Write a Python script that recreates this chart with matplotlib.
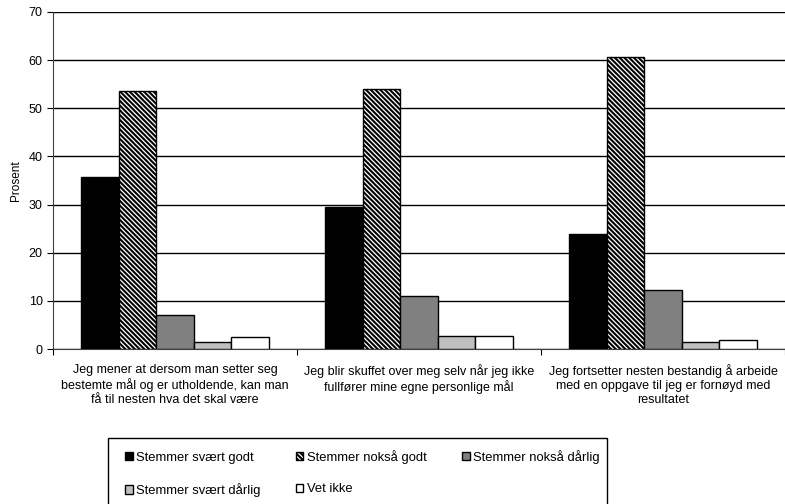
import numpy as np
import matplotlib.pyplot as plt
from matplotlib.patches import Rectangle

plt.rcParams['font.family'] = ['Liberation Sans', 'DejaVu Sans']
plt.rcParams['hatch.linewidth'] = 1.5

categories = [
    'Jeg mener at dersom man setter seg\nbestemte mål og er utholdende, kan man\nfå til nesten hva det skal være',
    'Jeg blir skuffet over meg selv når jeg ikke\nfullfører mine egne personlige mål',
    'Jeg fortsetter nesten bestandig å arbeide\nmed en oppgave til jeg er fornøyd med\nresultatet',
]
series = ['Stemmer svært godt', 'Stemmer nokså godt', 'Stemmer nokså dårlig',
          'Stemmer svært dårlig', 'Vet ikke']
svaert_godt = [35.7, 29.5, 23.8]
noksa_godt = [53.5, 54.1, 60.6]
noksa_darlig = [7.0, 11.0, 12.2]
svaert_darlig = [1.4, 2.7, 1.5]
vet_ikke = [2.4, 2.7, 1.9]
values = [svaert_godt, noksa_godt, noksa_darlig, svaert_darlig, vet_ikke]

fills = ['black', 'white', '#808080', '#c0c0c0', 'white']
hatches = [None, '\\' * 7, None, None, None]

W, H = 785, 504
fig = plt.figure(figsize=(W / 100, H / 100), dpi=100)
ax = fig.add_axes([53 / W, 1 - 349 / H, (785 - 53) / W, 337 / H])

width = 0.1535
x = np.arange(len(categories)) + 0.5
for i, (vals, fc, h) in enumerate(zip(values, fills, hatches)):
    ax.bar(x + (i - 2) * width, vals, width, color=fc, edgecolor='black',
           linewidth=1.0, hatch=h, label=series[i], zorder=3)

ax.set_ylim(0, 70)
ax.set_yticks(range(0, 71, 10))
ax.set_xlim(0, 732 / 245)
ax.set_xticks([0, 1, 2, 3])
ax.set_xticklabels([])
ax.set_xticks(x, minor=True)
ax.set_xticklabels(categories, minor=True, fontsize=9, linespacing=1.2)
ax.tick_params(axis='x', which='minor', length=0, pad=11)
ax.tick_params(axis='x', which='major', length=4, direction='out')
ax.tick_params(axis='y', length=4, direction='out', labelsize=9)
ax.yaxis.grid(True, color='black', linewidth=1.0, zorder=0)
ax.set_axisbelow(True)
for s in ['top', 'right']:
    ax.spines[s].set_visible(False)
ax.spines['left'].set_color('#404040')
ax.spines['bottom'].set_color('#404040')
ax.set_ylabel('Prosent', fontsize=8.5, labelpad=5)

# legend box runs past the bottom of the figure
fig.patches.append(Rectangle((108 / W, -0.05), (607 - 108) / W, 0.05 + 1 - 438 / H,
                             transform=fig.transFigure, fill=False,
                             edgecolor='black', linewidth=1.0))
handles, labels = ax.get_legend_handles_labels()
order = [0, 3, 1, 4, 2]
fig.legend([handles[k] for k in order], [labels[k] for k in order], ncol=3,
           loc='upper left', bbox_to_anchor=(113 / W, 1 - 438 / H),
           frameon=False, fontsize=9.4, handlelength=0.6, handleheight=0.6,
           handletextpad=0.25, columnspacing=2.7, labelspacing=1.5)

fig.savefig('out.png', dpi=100)
